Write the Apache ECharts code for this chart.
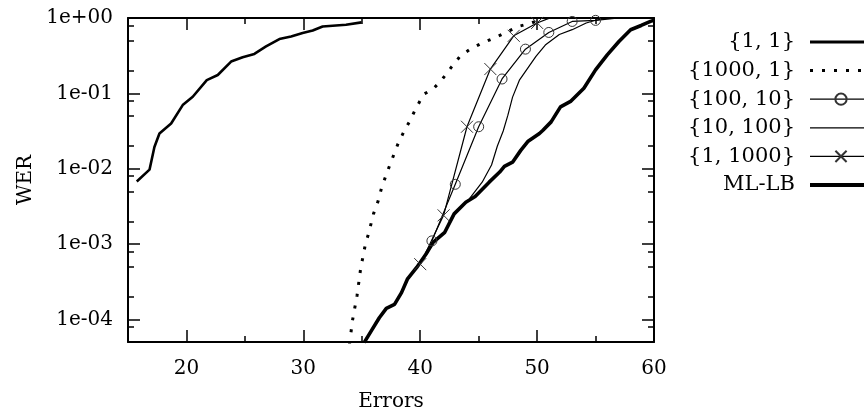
<!DOCTYPE html>
<html><head><meta charset="utf-8">
<script src="https://cdn.jsdelivr.net/npm/echarts@6/dist/echarts.min.js"></script>
<style>html,body{margin:0;padding:0;background:#fff}#c{width:864px;height:420px}</style>
</head><body><div id="c"></div>
<script>
// ---- data ----
const xMajor = [20, 30, 40, 50, 60];
const xMinor = [25, 35, 45, 55];
const yMajor = [1e-4, 1e-3, 1e-2, 1e-1, 1];
const yMinor = [8e-5, 2e-4, 5e-4, 8e-4, 2e-3, 5e-3, 8e-3, 2e-2, 5e-2, 8e-2, 0.2, 0.5, 0.8];

const names = ['{1, 1}', '{1000, 1}', '{100, 10}', '{10, 100}', '{1, 1000}', 'ML-LB'];

const s11X = [15.75, 16.84, 17.26, 17.69, 18.69, 19.68, 20.54, 21.74, 22.68, 23.82, 24.81, 25.81, 26.81, 27.95, 28.95, 29.94, 30.8, 31.65, 33.65, 34.98];
const s11Y = [0.00677, 0.0097, 0.0194, 0.0293, 0.0398, 0.0698, 0.090, 0.150, 0.175, 0.264, 0.302, 0.334, 0.419, 0.525, 0.569, 0.631, 0.684, 0.773, 0.814, 0.874];

const s1000_1X = [33.95, 34.2, 34.6, 34.9, 35.3, 35.6, 36.0, 36.4, 36.7, 37.0, 37.4, 38.1, 38.6, 39.1, 39.6, 40.3, 41.1, 41.9, 42.7, 43.4, 44.3, 45.3, 46.3, 47.4, 48.4, 49.5, 50.3];
const s1000_1Y = [4.68e-5, 9.55e-5, 2.09e-4, 4.68e-4, 9.77e-4, 1.41e-3, 2.51e-3, 3.72e-3, 5.62e-3, 7.59e-3, 1.12e-2, 2.14e-2, 3.09e-2, 4.27e-2, 6.17e-2, 9.77e-2, 0.1135, 0.155, 0.226, 0.309, 0.389, 0.465, 0.541, 0.650, 0.773, 0.857, 0.955];

const s100_10X = [41, 43, 45, 47, 49, 51, 53, 55, 57];
const s100_10Y = [1.1e-3, 6.2e-3, 3.6e-2, 0.155, 0.386, 0.643, 0.90, 0.93, 1.0];

const s10_100X = [44.2, 45.3, 46.1, 46.6, 47.1, 47.5, 47.9, 48.5, 49.9, 50.7, 51.9, 53.0, 54.2, 55.0, 56.0];
const s10_100Y = [3.98e-3, 6.61e-3, 1.12e-2, 2.0e-2, 3.16e-2, 5.13e-2, 8.91e-2, 0.151, 0.309, 0.437, 0.603, 0.700, 0.857, 0.933, 1.0];

const s1_1000X = [40, 42, 44, 46, 48, 50, 51];
const s1_1000Y = [5.4e-4, 2.4e-3, 3.6e-2, 0.21, 0.58, 0.86, 0.99];

const mlX = [35.2, 35.8, 36.5, 37.1, 37.8, 38.4, 38.9, 39.7, 40.5, 41.1, 42.1, 42.9, 43.9, 44.7, 45.9, 46.8, 47.2, 47.9, 48.6, 49.2, 50.2, 50.5, 51.2, 52.0, 52.9, 54.0, 55.0, 56.0, 57.0, 58.0, 58.9, 59.7, 60];
const mlY = [4.9e-5, 6.98e-5, 1.05e-4, 1.40e-4, 1.58e-4, 2.26e-4, 3.41e-4, 4.88e-4, 7.36e-4, 1.05e-3, 1.43e-3, 2.51e-3, 3.59e-3, 4.27e-3, 6.62e-3, 9.02e-3, 1.07e-2, 1.22e-2, 1.75e-2, 2.29e-2, 2.93e-2, 3.24e-2, 4.18e-2, 6.62e-2, 7.89e-2, 0.117, 0.205, 0.324, 0.488, 0.698, 0.796, 0.902, 0.933];

// ---- chart ----
const FONT = 'DejaVu Serif';
const FS = 20;
const pairs = (xs, ys) => xs.map((x, i) => [x, ys[i]]);
const markEvery = (xs, ys, lastPlain) => xs.map((x, i) => {
  const d = { value: [x, ys[i]] };
  if (lastPlain && i === xs.length - 1) d.symbol = 'none';
  return d;
});
const fmtExp = v => {
  const e = Math.round(Math.log10(v));
  return '1e' + (e < 0 ? '-' : '+') + String(Math.abs(e)).padStart(2, '0');
};
const black = '#000';
const clear = 'rgba(0,0,0,0)';
const tickStyle = { color: black, width: 1.5 };

function xAx(position, ticks, len, showLine, withLabels) {
  const a = {
    type: 'value', min: 15, max: 60, position: position,
    axisLine: { show: showLine, onZero: false, lineStyle: { color: black, width: 2 } },
    axisTick: { show: true, inside: true, length: len, customValues: ticks, lineStyle: tickStyle },
    axisLabel: { show: false },
    splitLine: { show: false }
  };
  if (withLabels) {
    a.axisLabel = { show: true, customValues: xMajor, margin: 17, color: black, fontFamily: FONT, fontSize: FS };
    a.name = 'Errors';
    a.nameLocation = 'middle';
    a.nameGap = 50;
    a.nameTextStyle = { color: black, fontFamily: FONT, fontSize: FS };
  }
  return a;
}
function yAx(position, ticks, len, showLine, withLabels) {
  const a = {
    type: 'log', logBase: 10, min: 5e-5, max: 1, position: position,
    axisLine: { show: showLine, onZero: false, lineStyle: { color: black, width: 2 } },
    axisTick: { show: true, inside: true, length: len, customValues: ticks, lineStyle: tickStyle },
    axisLabel: { show: false },
    splitLine: { show: false }, minorTick: { show: false }
  };
  if (withLabels) {
    a.axisLabel = { show: true, customValues: yMajor, margin: 15, color: black, fontFamily: FONT, fontSize: FS, formatter: fmtExp };
    a.name = 'WER';
    a.nameLocation = 'middle';
    a.nameGap = 91;
    a.nameTextStyle = { color: black, fontFamily: FONT, fontSize: FS };
  }
  return a;
}

const thin = { color: black, width: 1.2 };
const legendWidths = [3, 3, 1.3, 1.3, 1.3, 4];
const option = {
  animation: false,
  backgroundColor: '#fff',
  grid: { left: 128, right: 210, top: 18, bottom: 78, containLabel: false },
  xAxis: [
    xAx('bottom', xMajor, 12, true, true),
    xAx('bottom', xMinor, 6, false, false),
    xAx('top', xMajor, 12, true, false),
    xAx('top', xMinor, 6, false, false)
  ],
  yAxis: [
    yAx('left', yMajor, 12, true, true),
    yAx('left', yMinor, 6, false, false),
    yAx('right', yMajor, 12, true, false),
    yAx('right', yMinor, 6, false, false)
  ],
  legend: {
    orient: 'vertical', align: 'right', right: -15, top: 25,
    itemWidth: 62, itemHeight: 14, itemGap: 4.6,
    data: names.map((n, i) => ({ name: n, lineStyle: { width: legendWidths[i] } })),
    textStyle: { color: black, fontFamily: FONT, fontSize: 21, lineHeight: 24, padding: [0, 10, 0, 0] }
  },
  series: [
    { name: names[0], type: 'line', data: pairs(s11X, s11Y), symbol: 'circle', showSymbol: false,
      lineStyle: { color: black, width: 2.6 }, itemStyle: { color: clear, borderWidth: 0 } },
    { name: names[1], type: 'line', data: pairs(s1000_1X, s1000_1Y), symbol: 'circle', showSymbol: false,
      lineStyle: { color: black, width: 3, type: [3, 9], cap: 'butt' }, itemStyle: { color: clear, borderWidth: 0 } },
    { name: names[2], type: 'line', data: markEvery(s100_10X, s100_10Y, true), symbol: 'circle', symbolSize: 10,
      lineStyle: thin, itemStyle: { color: clear, borderColor: '#333', borderWidth: 1 } },
    { name: names[3], type: 'line', data: pairs(s10_100X, s10_100Y), symbol: 'circle', showSymbol: false,
      lineStyle: thin, itemStyle: { color: clear, borderWidth: 0 } },
    { name: names[4], type: 'line', data: markEvery(s1_1000X, s1_1000Y, true), symbol: 'path://M0,0L10,10M10,0L0,10', symbolSize: 12,
      lineStyle: thin, itemStyle: { color: clear, borderColor: '#333', borderWidth: 1 } },
    { name: names[5], type: 'line', data: pairs(mlX, mlY), symbol: 'circle', showSymbol: false,
      lineStyle: { color: black, width: 3.6 }, itemStyle: { color: clear, borderWidth: 0 } }
  ]
};
const chart = echarts.init(document.getElementById('c'), null, { renderer: 'canvas' });
chart.setOption(option);
</script>
</body></html>
